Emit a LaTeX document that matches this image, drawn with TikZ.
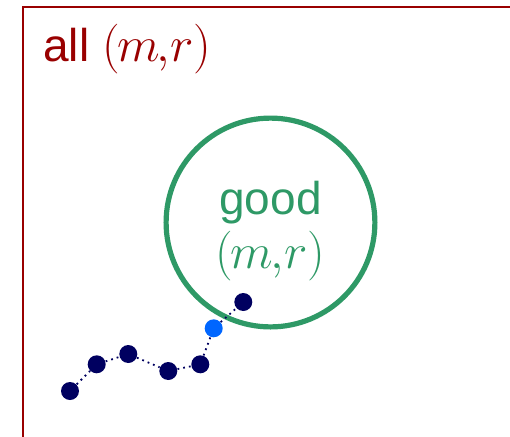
\documentclass[tikz,border=0pt]{standalone}
\usepackage{fontspec}
\setmainfont{Liberation Sans}
\usepackage{amsmath}
\definecolor{allred}{RGB}{153, 0, 0}
\definecolor{goodgreen}{RGB}{46, 153, 102}
\definecolor{walknavy}{RGB}{0, 0, 96}
\definecolor{hitblue}{RGB}{0, 102, 255}
\newcommand{\mrpair}{{\fontsize{24.5}{28}\selectfont$(\mkern-1mu m\mkern-1mu{,}r)$}}

\begin{document}
\begin{tikzpicture}[x=0.5pt, y=-0.5pt]
    \tikzset{
        step dot/.style={circle, fill=walknavy, inner sep=0pt, minimum size=9pt},
        hit dot/.style={step dot, fill=hitblue},
        walk/.style={walknavy, dotted, line width=0.9pt},
        big text/.style={anchor=base, inner sep=0pt, font=\fontsize{23}{27}\selectfont},
    }
    \useasboundingbox (0,0) rectangle (510,436);
    \clip (0,0) rectangle (510,436);
    % set of all pairs
    \draw[allred, line width=1pt] (22.5,7) rectangle (540,470);
    \node[big text, allred, anchor=base west] (alltext) at (43,61) {all \mrpair};
    % good pairs
    \draw[goodgreen, line width=2.6pt] (270.5,222.5) circle (52.2pt);
    \node[big text, goodgreen] (goodtext) at (270.5,214) {good};
    \node[big text, goodgreen] (goodpair) at (270.5,268) {\mrpair};
    % the walk
    \node[step dot] (p1) at (70,391) {};
    \node[step dot] (p2) at (96.7,364.3) {};
    \node[step dot] (p3) at (128.3,354) {};
    \node[step dot] (p4) at (168.3,371) {};
    \node[step dot] (p5) at (200.3,364.3) {};
    \node[hit dot]  (p6) at (213.7,328.3) {};
    \node[step dot] (p7) at (243.3,302) {};
    \foreach \a/\b in {p1/p2, p2/p3, p3/p4, p4/p5, p5/p6, p6/p7}
        \draw[walk] (\a) -- (\b);
\end{tikzpicture}
\end{document}
